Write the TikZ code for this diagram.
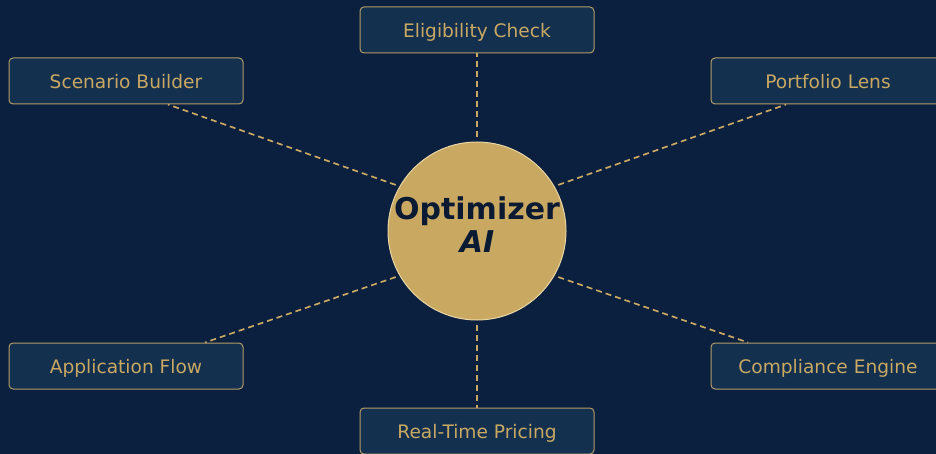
\documentclass[tikz,border=0pt]{standalone}
\usepackage{fontspec}
\setmainfont{DejaVu Sans}
\definecolor{bgc}{HTML}{0B1F3F}
\definecolor{boxfill}{HTML}{14304F}
\definecolor{boxline}{HTML}{B39C66}
\definecolor{gold}{HTML}{C9A862}
\definecolor{ringc}{HTML}{E8D6A4}
\definecolor{darktext}{HTML}{0B1A33}
\begin{document}
\begin{tikzpicture}[x=1pt,y=-1pt,
  featbox/.style={draw=boxline, fill=boxfill, line width=1pt, rounded corners=4pt,
    minimum width=234pt, minimum height=46pt, inner sep=0pt,
    text height=17pt, text depth=1.5pt,
    text=gold, font=\fontsize{18.6}{22}\selectfont},
  hub/.style={circle, draw=ringc, fill=gold, line width=1pt, minimum size=178pt, inner sep=0pt},
  link/.style={draw=gold, line width=1.7pt, dash pattern=on 6pt off 4pt}]
\clip (0,0) rectangle (936,454);
\fill[bgc] (0,0) rectangle (936,454);
\node[hub] (c) at (477,231) {};
\node[text=darktext, font=\bfseries\fontsize{30}{33}\selectfont, align=center, anchor=center] (ct) at (477,225) {Optimizer\\\itshape AI};
\node[featbox] (ec) at (477,30) {Eligibility Check};
\node[featbox] (sb) at (126,81) {Scenario Builder};
\node[featbox] (pl) at (828,81) {Portfolio Lens};
\node[featbox] (af) at (126,366) {Application Flow};
\node[featbox] (ce) at (828,366) {Compliance Engine};
\node[featbox] (rp) at (477,431) {Real-Time Pricing};
\draw[link, shorten <=4pt] (c.150) -- ([xshift=42pt]sb.south);
\draw[link, shorten <=4pt] (c.210) -- ([xshift=79pt]af.north);
\draw[link, shorten <=4pt] (c.30) -- ([xshift=-42pt]pl.south);
\draw[link, shorten <=4pt] (c.330) -- ([xshift=-80pt]ce.north);
\draw[link, shorten <=4pt] (c.north) -- (ec.south);
\draw[link, shorten <=4pt] (c.south) -- (rp.north);
\end{tikzpicture}
\end{document}
